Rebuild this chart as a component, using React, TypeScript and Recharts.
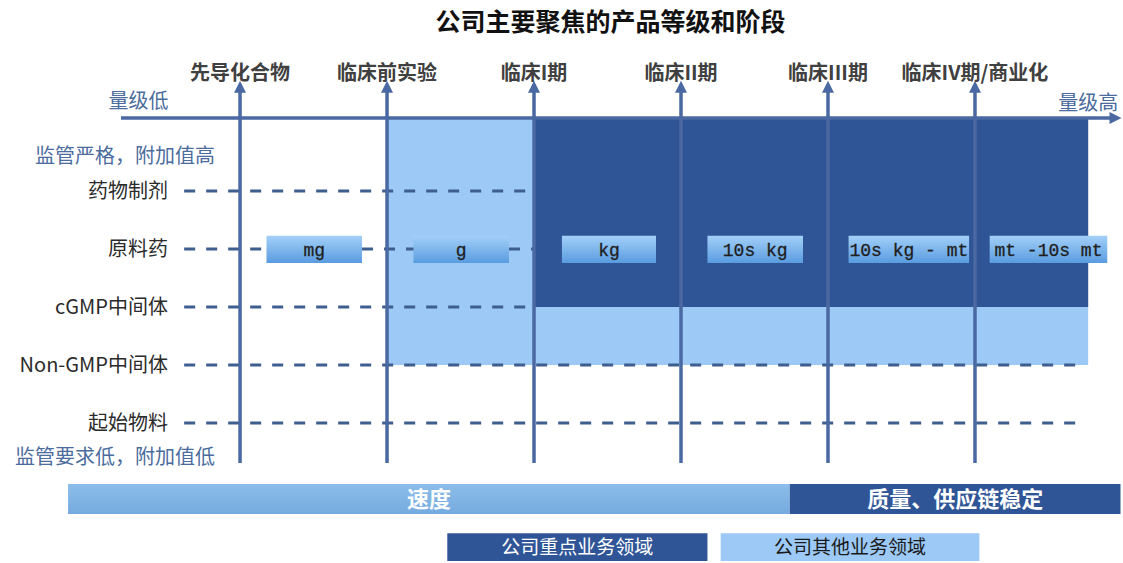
import React from 'react';
import { ComposedChart, XAxis, YAxis, ReferenceArea, ReferenceLine, ReferenceDot, Scatter } from 'recharts';

// ---- data ----
const chartTitle = '公司主要聚焦的产品等级和阶段';
const stages = ['先导化合物', '临床前实验', '临床I期', '临床II期', '临床III期', '临床IV期/商业化'];
const levels = ['起始物料', 'Non-GMP中间体', 'cGMP中间体', '原料药', '药物制剂'];
const quantities = ['mg', 'g', 'kg', '10s kg', '10s kg - mt', 'mt -10s mt'];
const quantityFrom = [0.18, 1.18, 2.19, 3.18, 4.14, 5.1];
const quantityTo = [0.83, 1.83, 2.83, 3.83, 4.96, 5.9];
const quantityLevel = 3;
const highNote = '监管严格，附加值高';
const lowNote = '监管要求低，附加值低';
const scaleLow = '量级低';
const scaleHigh = '量级高';
// focus (dark) area: stages 2 → end, levels cGMP → top
const focusArea = { from: 2, to: 5.77, bottom: 2 };
// other (light) areas
const otherAreas = [
  { from: 1, to: 2, bottom: 1 },
  { from: 2, to: 5.77, bottom: 1 },
];
const bottomBars = [
  { name: '速度', from: -1.17, to: 3.74, dark: false },
  { name: '质量、供应链稳定', from: 3.74, to: 5.99, dark: true },
];
const legendItems = [
  { name: '公司重点业务领域', from: 1.41, to: 3.18, dark: true },
  { name: '公司其他业务领域', from: 3.27, to: 5.03, dark: false },
];

// ---- layout in data units ----
const X_MIN = -1.633;
const X_MAX = 6.007;
const Y_MIN = -2.414;
const Y_MAX = 7.293;
const AXIS_LEVEL = 5.26;
const STAGE_TOP = 5.9;
const STAGE_BOTTOM = -0.69;
const DASH_START = -0.38;
const DASH_END = 5.73;

const DARK = '#2f5597';
const LIGHT = '#9cc9f5';
const LINE = '#4a68a2';
const DASH = '#3d5e8e';
const NOTE = '#4b6c9c';
const CJK = '"Noto Sans CJK SC", "Noto Sans", sans-serif';

const UpArrow = (props: any) => {
  const { cx, cy } = props;
  return <path d={`M${cx},${cy} L${cx - 6},${cy + 12} L${cx + 6},${cy + 12} Z`} fill={LINE} />;
};
const RightArrow = (props: any) => {
  const { cx, cy } = props;
  return <path d={`M${cx},${cy} L${cx - 12},${cy - 6} L${cx - 12},${cy + 6} Z`} fill={LINE} />;
};

const stageArrows = stages.map((_, i) => ({ x: i, y: STAGE_TOP }));
const axisArrow = [{ x: X_MAX - 0.01, y: AXIS_LEVEL }];

// dashed segments per level: stop at the focus area, and leave gaps for quantity boxes
const dashSegments: { y: number; from: number; to: number }[] = [];
levels.forEach((_, i) => {
  const end = i >= focusArea.bottom ? focusArea.from : DASH_END;
  if (i === quantityLevel) {
    let start = DASH_START;
    quantityFrom.forEach((f, k) => {
      if (f < end) {
        dashSegments.push({ y: i, from: start, to: f });
        start = quantityTo[k];
      }
    });
    if (start < end) dashSegments.push({ y: i, from: start, to: end });
  } else {
    dashSegments.push({ y: i, from: DASH_START, to: end });
  }
});

export default function App() {
  return (
    <div style={{ position: 'absolute', left: 0, top: 0, width: 1123, height: 563, background: '#fff', fontFamily: CJK }}>
      <ComposedChart width={1123} height={563} margin={{ top: 0, right: 0, bottom: 0, left: 0 }}>
        <defs>
          <linearGradient id="qtyGrad" x1="0" y1="0" x2="0" y2="1">
            <stop offset="0%" stopColor="#a3d0f8" />
            <stop offset="100%" stopColor="#5a9ce0" />
          </linearGradient>
          <linearGradient id="speedGrad" x1="0" y1="0" x2="0" y2="1">
            <stop offset="0%" stopColor="#8cbdea" />
            <stop offset="100%" stopColor="#76abe0" />
          </linearGradient>
        </defs>
        <XAxis type="number" dataKey="x" domain={[X_MIN, X_MAX]} hide allowDataOverflow />
        <YAxis type="number" dataKey="y" domain={[Y_MIN, Y_MAX]} hide allowDataOverflow />

        {/* light areas */}
        {otherAreas.map((a, i) => (
          <ReferenceArea key={`o${i}`} x1={a.from} x2={a.to} y1={a.bottom} y2={AXIS_LEVEL} fill={LIGHT} fillOpacity={1} stroke="none" ifOverflow="visible" />
        ))}

        {/* dashed level lines */}
        {dashSegments.map((d, i) => (
          <ReferenceLine
            key={`d${i}`}
            segment={[{ x: d.from, y: d.y }, { x: d.to, y: d.y }]}
            stroke={DASH}
            strokeWidth={3}
            strokeDasharray="11 11"
            ifOverflow="visible"
          />
        ))}

        {/* dark focus area */}
        <ReferenceArea x1={focusArea.from} x2={focusArea.to} y1={focusArea.bottom} y2={AXIS_LEVEL} fill={DARK} fillOpacity={1} stroke="none" ifOverflow="visible" />

        {/* horizontal axis */}
        <ReferenceLine segment={[{ x: -0.81, y: AXIS_LEVEL }, { x: X_MAX - 0.05, y: AXIS_LEVEL }]} stroke={LINE} strokeWidth={3.5} ifOverflow="visible" />

        {/* stage lines */}
        {stages.map((s, i) => (
          <ReferenceLine key={`s${i}`} segment={[{ x: i, y: STAGE_BOTTOM }, { x: i, y: STAGE_TOP - 0.1 }]} stroke={LINE} strokeWidth={3.5} ifOverflow="visible" />
        ))}
        <Scatter data={stageArrows} shape={UpArrow} isAnimationActive={false} />
        <Scatter data={axisArrow} shape={RightArrow} isAnimationActive={false} />

        {/* stage labels */}
        {stages.map((s, i) => (
          <ReferenceDot key={`sl${i}`} x={i} y={6.03} r={0} ifOverflow="visible"
            label={{ value: s, position: 'center', fill: '#404040', fontSize: 20, fontWeight: 700 }} />
        ))}

        {/* level labels */}
        {levels.map((lv, i) => (
          <ReferenceDot key={`ll${i}`} x={-0.49} y={i} r={0} ifOverflow="visible"
            label={{ value: lv, position: 'left', offset: 0, fill: '#2b2b2b', fontSize: 20 }} />
        ))}

        {/* notes */}
        <ReferenceDot x={-0.17} y={4.6} r={0} ifOverflow="visible" label={{ value: highNote, position: 'left', offset: 0, fill: NOTE, fontSize: 20 }} />
        <ReferenceDot x={-0.17} y={-0.586} r={0} ifOverflow="visible" label={{ value: lowNote, position: 'left', offset: 0, fill: NOTE, fontSize: 20 }} />
        <ReferenceDot x={-0.69} y={5.55} r={0} ifOverflow="visible" label={{ value: scaleLow, position: 'center', fill: NOTE, fontSize: 20 }} />
        <ReferenceDot x={5.77} y={5.52} r={0} ifOverflow="visible" label={{ value: scaleHigh, position: 'center', fill: NOTE, fontSize: 20 }} />

        {/* title */}
        <ReferenceDot x={2.52} y={6.92} r={0} ifOverflow="visible" label={{ value: chartTitle, position: 'center', fill: '#111', fontSize: 25, fontWeight: 700 }} />

        {/* quantity boxes */}
        {quantities.map((q, i) => (
          <ReferenceArea key={`q${i}`} x1={quantityFrom[i]} x2={quantityTo[i]} y1={quantityLevel - 0.24} y2={quantityLevel + 0.23}
            fill="url(#qtyGrad)" fillOpacity={1} stroke="none" ifOverflow="visible"
            label={{ value: q, position: 'center', fill: '#1e1e1e', stroke: '#1e1e1e', strokeWidth: 0.3, fontSize: 18, fontFamily: '"Liberation Mono", "DejaVu Sans Mono", monospace' }} />
        ))}

        {/* bottom bars */}
        {bottomBars.map((b, i) => (
          <ReferenceArea key={`b${i}`} x1={b.from} x2={b.to} y1={-1.57} y2={-1.05}
            fill={b.dark ? DARK : 'url(#speedGrad)'} fillOpacity={1} stroke="none" ifOverflow="visible"
            label={{ value: b.name, position: 'center', fill: '#ffffff', fontSize: 22, fontWeight: 700 }} />
        ))}

        {/* legend */}
        {legendItems.map((l, i) => (
          <ReferenceArea key={`l${i}`} x1={l.from} x2={l.to} y1={-2.38} y2={-1.9}
            fill={l.dark ? DARK : LIGHT} fillOpacity={1} stroke="none" ifOverflow="visible"
            label={{ value: l.name, position: 'center', fill: l.dark ? '#ffffff' : '#1a1a1a', fontSize: 19 }} />
        ))}
      </ComposedChart>
    </div>
  );
}
